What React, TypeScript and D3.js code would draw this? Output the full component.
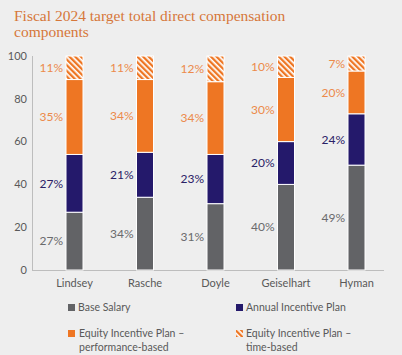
import React from "react";
import * as d3 from "d3";

const categories = ["Lindsey", "Rasche", "Doyle", "Geiselhart", "Hyman"];
const seriesNames = [
  "Base Salary",
  "Annual Incentive Plan",
  "Equity Incentive Plan – performance-based",
  "Equity Incentive Plan – time-based",
];
const baseSalary = [27, 34, 31, 40, 49];
const annualIncentive = [27, 21, 23, 20, 24];
const equityPerformance = [35, 34, 34, 30, 20];
const equityTime = [11, 11, 12, 10, 7];
const yTicks = [0, 20, 40, 60, 80, 100];

const W = 402;
const H = 355;
const fills = ["#626366", "#24196b", "#ee7623", "url(#hatch)"];
const labelColors = ["#6a6a6c", "#2a2166", "#ec8a4a", "#ec8a4a"];

export default function App() {
  const series = [baseSalary, annualIncentive, equityPerformance, equityTime];
  const rows = categories.map((c, i) => ({
    cat: c,
    s0: baseSalary[i],
    s1: annualIncentive[i],
    s2: equityPerformance[i],
    s3: equityTime[i],
  }));
  const stack = d3.stack<any>().keys(["s0", "s1", "s2", "s3"])(rows);

  const y = d3.scaleLinear().domain([0, 100]).range([270, 56]);
  const x = d3.scaleBand().domain(categories).range([39.25, 391.75]).padding(0);
  const barW = 17;
  const bx = (c: string) => (x(c) as number) + (x.step() - barW) / 2;

  const font = "Lato, 'Open Sans', sans-serif";

  return (
    <div style={{ position: "fixed", left: 0, top: 0 }}>
      <svg width={W} height={H} style={{ display: "block" }}>
        <defs>
          <pattern
            id="hatch"
            patternUnits="userSpaceOnUse"
            width="4"
            height="4"
            patternTransform="rotate(-45)"
          >
            <rect width="4" height="4" fill="#ffffff" />
            <rect width="2.3" height="4" fill="#ee7623" />
          </pattern>
        </defs>
        <rect width={W} height={H} fill="#eeeeee" />
        <text
          fill="#d6773a"
          fontFamily="'Liberation Serif', serif"
          fontSize={15.5}
        >
          <tspan x={14} y={21}>Fiscal 2024 target total direct compensation</tspan>
          <tspan x={14} y={37}>components</tspan>
        </text>

        {yTicks.map((t) => (
          <text
            key={t}
            x={27}
            y={y(t)}
            dy="0.35em"
            textAnchor="end"
            fill="#595959"
            fontFamily={font}
            fontSize={11}
          >
            {t}
          </text>
        ))}
        <line x1={32.5} x2={32.5} y1={56} y2={270} stroke="#bdbdbd" />
        <line x1={32} x2={384} y1={270.5} y2={270.5} stroke="#bdbdbd" />

        {stack.map((layer, li) =>
          layer.map((d, i) => (
            <rect
              key={`${li}-${i}`}
              x={bx(categories[i])}
              y={y(d[1])}
              width={barW}
              height={y(d[0]) - y(d[1])}
              fill={fills[li]}
              stroke="#ffffff"
              strokeWidth={1}
            />
          ))
        )}

        {stack.map((layer, li) =>
          layer.map((d, i) => (
            <text
              key={`l${li}-${i}`}
              x={bx(categories[i]) - 3}
              y={y((d[0] + d[1]) / 2)}
              dy="0.35em"
              textAnchor="end"
              fill={labelColors[li]}
              fontFamily={font}
              fontSize={12}
            >
              {series[li][i]}%
            </text>
          ))
        )}

        {categories.map((c) => (
          <text
            key={c}
            x={bx(c) + barW / 2}
            y={287}
            textAnchor="middle"
            fill="#595959"
            fontFamily={font}
            fontSize={11}
          >
            {c}
          </text>
        ))}

        {/* legend */}
        <g fontFamily={font} fontSize={10.5} fill="#595959">
          <rect x={68} y={304} width={7} height={7} fill={fills[0]} />
          <text x={78} y={307} dy="0.35em">{seriesNames[0]}</text>
          <rect x={236} y={304} width={7} height={7} fill={fills[1]} />
          <text x={246} y={307} dy="0.35em">{seriesNames[1]}</text>
          <rect x={68} y={330} width={7} height={7} fill={fills[2]} />
          <text x={79} y={333} dy="0.35em">Equity Incentive Plan –</text>
          <text x={79} y={347} dy="0.35em">performance-based</text>
          <rect x={236} y={330} width={7} height={7} fill={fills[3]} />
          <text x={246} y={333} dy="0.35em">Equity Incentive Plan –</text>
          <text x={246} y={347} dy="0.35em">time-based</text>
        </g>
      </svg>
    </div>
  );
}
